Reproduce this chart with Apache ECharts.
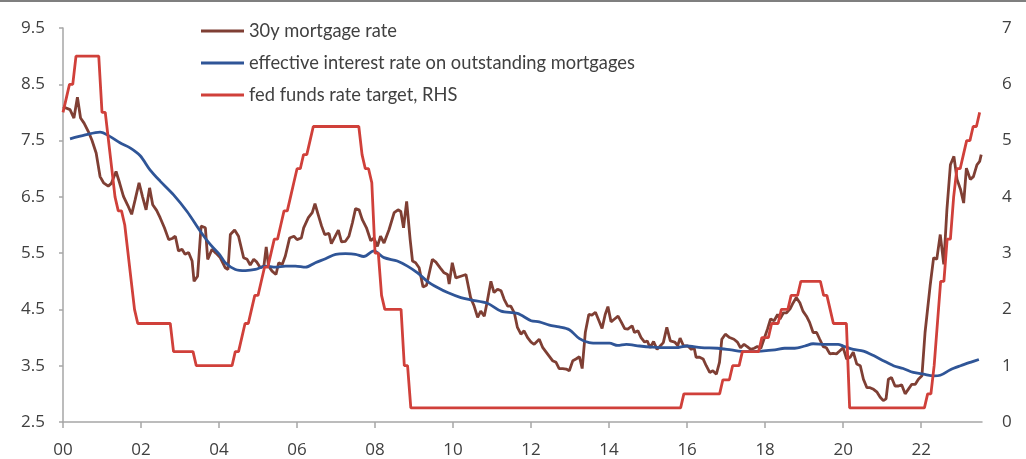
<!DOCTYPE html>
<html>
<head>
<meta charset="utf-8">
<script src="https://cdn.jsdelivr.net/npm/echarts@6/dist/echarts.min.js"></script>
<style>
  html, body { margin: 0; padding: 0; background: #fff; }
  #topRule { position: absolute; left: 0; top: 0; width: 1026px; height: 2px; background: #7f7f7f; z-index: 2; }
  #mortgageChart { width: 1026px; height: 459px; }
</style>
</head>
<body>
<div id="topRule"></div>
<div id="mortgageChart"></div>
<script>
// x axis: years since 2000
const yearTicks = [0, 2, 4, 6, 8, 10, 12, 14, 16, 18, 20, 22];
const rateTicks = [2.5, 3.5, 4.5, 5.5, 6.5, 7.5, 8.5, 9.5];

// 30y mortgage rate
const mortgageYears = [
  0.00, 0.18, 0.28, 0.37, 0.45, 0.54, 0.65, 0.74, 0.85, 0.95, 1.04, 1.16, 1.24, 1.36, 1.45, 1.55, 1.66, 1.76, 1.85, 1.95,
  2.04, 2.13, 2.22, 2.30, 2.40, 2.49, 2.60, 2.71, 2.80, 2.88, 2.96, 3.05, 3.13, 3.22, 3.31, 3.36, 3.45, 3.54, 3.65, 3.71,
  3.82, 3.92, 4.03, 4.16, 4.23, 4.29, 4.40, 4.50, 4.63, 4.72, 4.80, 4.89, 4.97, 5.06, 5.15, 5.21, 5.27, 5.36, 5.46, 5.53,
  5.62, 5.70, 5.81, 5.92, 6.00, 6.11, 6.17, 6.29, 6.39, 6.46, 6.54, 6.63, 6.71, 6.82, 6.88, 6.97, 7.06, 7.14, 7.24, 7.33,
  7.42, 7.50, 7.59, 7.67, 7.78, 7.89, 7.97, 8.06, 8.14, 8.23, 8.36, 8.49, 8.59, 8.66, 8.73, 8.81, 8.90, 8.96, 9.04, 9.13,
  9.23, 9.32, 9.41, 9.47, 9.56, 9.67, 9.77, 9.86, 9.90, 9.98, 10.07, 10.20, 10.33, 10.45, 10.54, 10.63, 10.71, 10.80, 10.87, 10.97,
  11.05, 11.14, 11.23, 11.31, 11.40, 11.48, 11.57, 11.65, 11.74, 11.82, 11.91, 12.00, 12.08, 12.21, 12.30, 12.42, 12.55, 12.64, 12.72, 12.81,
  12.90, 12.98, 13.07, 13.15, 13.24, 13.31, 13.39, 13.48, 13.56, 13.65, 13.74, 13.82, 13.90, 13.97, 14.05, 14.14, 14.23, 14.31, 14.40, 14.48,
  14.59, 14.65, 14.74, 14.82, 14.91, 14.98, 15.05, 15.14, 15.23, 15.31, 15.39, 15.48, 15.57, 15.68, 15.76, 15.82, 15.91, 16.02, 16.11, 16.18,
  16.23, 16.32, 16.41, 16.49, 16.58, 16.66, 16.75, 16.83, 16.89, 16.98, 17.09, 17.20, 17.29, 17.37, 17.46, 17.54, 17.63, 17.72, 17.80, 17.89,
  17.97, 18.06, 18.14, 18.23, 18.32, 18.38, 18.47, 18.55, 18.64, 18.72, 18.80, 18.89, 18.97, 19.06, 19.14, 19.23, 19.32, 19.40, 19.49, 19.57,
  19.66, 19.74, 19.83, 19.91, 20.00, 20.09, 20.18, 20.26, 20.35, 20.44, 20.52, 20.61, 20.69, 20.78, 20.87, 20.95, 21.03, 21.10, 21.16, 21.24,
  21.33, 21.42, 21.50, 21.59, 21.67, 21.76, 21.85, 21.93, 22.02, 22.10, 22.23, 22.32, 22.40, 22.49, 22.58, 22.66, 22.75, 22.84, 22.92, 23.01,
  23.09, 23.16, 23.26, 23.34, 23.43, 23.50, 23.54
];
const mortgageRates = [
  8.10, 8.05, 7.90, 8.27, 7.90, 7.81, 7.66, 7.51, 7.28, 6.86, 6.75, 6.69, 6.74, 6.95, 6.75, 6.51, 6.35, 6.19, 6.45, 6.75,
  6.50, 6.27, 6.66, 6.36, 6.26, 6.13, 5.95, 5.74, 5.76, 5.80, 5.54, 5.57, 5.48, 5.51, 5.36, 5.00, 5.09, 5.98, 5.95, 5.39,
  5.57, 5.50, 5.42, 5.24, 5.21, 5.83, 5.91, 5.80, 5.42, 5.39, 5.29, 5.39, 5.34, 5.24, 5.27, 5.61, 5.27, 5.18, 5.12, 5.33,
  5.30, 5.45, 5.77, 5.80, 5.74, 5.77, 5.95, 6.13, 6.22, 6.38, 6.19, 5.98, 5.83, 5.85, 5.67, 5.79, 5.91, 5.70, 5.71, 5.80,
  6.04, 6.29, 6.27, 6.10, 5.95, 5.72, 5.77, 5.62, 5.80, 5.68, 5.92, 6.22, 6.27, 6.24, 5.95, 6.42, 5.74, 5.36, 5.33, 5.24,
  4.90, 4.93, 5.21, 5.39, 5.34, 5.24, 5.15, 5.12, 4.95, 5.33, 5.06, 5.09, 5.12, 4.71, 4.56, 4.36, 4.47, 4.38, 4.62, 5.00,
  4.80, 4.86, 4.83, 4.68, 4.56, 4.56, 4.44, 4.18, 4.06, 4.12, 4.00, 3.92, 3.88, 3.97, 3.82, 3.71, 3.59, 3.56, 3.45, 3.45,
  3.44, 3.41, 3.59, 3.62, 3.66, 3.45, 4.09, 4.41, 4.40, 4.45, 4.30, 4.16, 4.41, 4.55, 4.28, 4.33, 4.38, 4.28, 4.16, 4.15,
  4.21, 4.09, 4.12, 4.00, 3.92, 3.94, 3.82, 3.93, 3.79, 3.85, 3.91, 4.18, 3.94, 3.92, 3.86, 3.99, 3.85, 3.85, 3.79, 3.82,
  3.65, 3.65, 3.62, 3.50, 3.38, 3.41, 3.35, 3.56, 3.97, 4.06, 4.00, 3.97, 3.92, 3.82, 3.88, 3.84, 3.79, 3.81, 3.84, 3.81,
  3.97, 4.15, 4.33, 4.30, 4.41, 4.33, 4.44, 4.44, 4.51, 4.62, 4.71, 4.62, 4.47, 4.38, 4.27, 4.09, 4.09, 3.97, 3.84, 3.82,
  3.71, 3.72, 3.71, 3.76, 3.82, 3.62, 3.65, 3.74, 3.53, 3.50, 3.26, 3.11, 3.11, 3.08, 3.03, 2.94, 2.88, 2.91, 3.26, 3.29,
  3.14, 3.14, 3.16, 3.00, 3.08, 3.17, 3.17, 3.26, 3.32, 4.09, 4.92, 5.42, 5.39, 5.83, 5.30, 6.27, 7.07, 7.22, 6.81, 6.63,
  6.39, 7.01, 6.81, 6.86, 7.07, 7.13, 7.25
];

// effective interest rate on outstanding mortgages
const effectiveYears = [
  0.18, 0.57, 0.95, 1.21, 1.46, 1.72, 1.98, 2.23, 2.49, 2.83, 3.18, 3.52, 3.78, 4.02, 4.16, 4.42, 4.68, 4.93, 5.19, 5.45,
  5.70, 5.96, 6.22, 6.47, 6.73, 6.99, 7.24, 7.50, 7.71, 7.97, 8.23, 8.57, 8.83, 9.09, 9.34, 9.60, 9.86, 10.20, 10.45, 10.88,
  11.23, 11.65, 12.00, 12.21, 12.47, 12.72, 12.98, 13.24, 13.49, 13.75, 14.01, 14.22, 14.44, 14.78, 15.12, 15.46, 15.72, 15.98, 16.36, 16.79,
  17.13, 17.48, 17.90, 18.25, 18.50, 18.76, 19.02, 19.23, 19.53, 19.87, 20.00, 20.26, 20.52, 20.78, 21.03, 21.29, 21.54, 21.80, 22.06, 22.32,
  22.49, 22.75, 23.01, 23.26, 23.48
];
const effectiveRates = [
  7.53, 7.60, 7.65, 7.57, 7.46, 7.37, 7.23, 6.98, 6.78, 6.54, 6.24, 5.89, 5.65, 5.47, 5.33, 5.21, 5.19, 5.21, 5.27, 5.25,
  5.27, 5.27, 5.25, 5.33, 5.40, 5.48, 5.49, 5.48, 5.44, 5.54, 5.42, 5.36, 5.27, 5.15, 5.00, 4.89, 4.80, 4.71, 4.67, 4.61,
  4.47, 4.43, 4.30, 4.28, 4.22, 4.19, 4.14, 3.98, 3.91, 3.90, 3.90, 3.86, 3.88, 3.85, 3.83, 3.82, 3.82, 3.85, 3.82, 3.81,
  3.78, 3.75, 3.76, 3.78, 3.81, 3.81, 3.85, 3.89, 3.88, 3.88, 3.85, 3.79, 3.76, 3.68, 3.59, 3.50, 3.45, 3.38, 3.35, 3.32,
  3.33, 3.43, 3.50, 3.56, 3.61
];

// fed funds rate target (RHS), monthly from Jan 2000
const fedFundsTarget = [
  5.5, 5.75, 6.0, 6.0, 6.5, 6.5, 6.5, 6.5, 6.5, 6.5, 6.5, 6.5,
  5.5, 5.5, 5.0, 4.5, 4.0, 3.75, 3.75, 3.5, 3.0, 2.5, 2.0, 1.75,
  1.75, 1.75, 1.75, 1.75, 1.75, 1.75, 1.75, 1.75, 1.75, 1.75, 1.25, 1.25,
  1.25, 1.25, 1.25, 1.25, 1.25, 1.0, 1.0, 1.0, 1.0, 1.0, 1.0, 1.0,
  1.0, 1.0, 1.0, 1.0, 1.0, 1.25, 1.25, 1.5, 1.75, 1.75, 2.0, 2.25,
  2.25, 2.5, 2.75, 2.75, 3.0, 3.25, 3.25, 3.5, 3.75, 3.75, 4.0, 4.25,
  4.5, 4.5, 4.75, 4.75, 5.0, 5.25, 5.25, 5.25, 5.25, 5.25, 5.25, 5.25,
  5.25, 5.25, 5.25, 5.25, 5.25, 5.25, 5.25, 5.25, 4.75, 4.5, 4.5, 4.25,
  3.0, 3.0, 2.25, 2.0, 2.0, 2.0, 2.0, 2.0, 2.0, 1.0, 1.0, 0.25,
  0.25, 0.25, 0.25, 0.25, 0.25, 0.25, 0.25, 0.25, 0.25, 0.25, 0.25, 0.25,
  0.25, 0.25, 0.25, 0.25, 0.25, 0.25, 0.25, 0.25, 0.25, 0.25, 0.25, 0.25,
  0.25, 0.25, 0.25, 0.25, 0.25, 0.25, 0.25, 0.25, 0.25, 0.25, 0.25, 0.25,
  0.25, 0.25, 0.25, 0.25, 0.25, 0.25, 0.25, 0.25, 0.25, 0.25, 0.25, 0.25,
  0.25, 0.25, 0.25, 0.25, 0.25, 0.25, 0.25, 0.25, 0.25, 0.25, 0.25, 0.25,
  0.25, 0.25, 0.25, 0.25, 0.25, 0.25, 0.25, 0.25, 0.25, 0.25, 0.25, 0.25,
  0.25, 0.25, 0.25, 0.25, 0.25, 0.25, 0.25, 0.25, 0.25, 0.25, 0.25, 0.5,
  0.5, 0.5, 0.5, 0.5, 0.5, 0.5, 0.5, 0.5, 0.5, 0.5, 0.5, 0.75,
  0.75, 0.75, 1.0, 1.0, 1.0, 1.25, 1.25, 1.25, 1.25, 1.25, 1.25, 1.5,
  1.5, 1.5, 1.75, 1.75, 1.75, 2.0, 2.0, 2.0, 2.25, 2.25, 2.25, 2.5,
  2.5, 2.5, 2.5, 2.5, 2.5, 2.5, 2.25, 2.25, 2.0, 1.75, 1.75, 1.75,
  1.75, 1.75, 0.25, 0.25, 0.25, 0.25, 0.25, 0.25, 0.25, 0.25, 0.25, 0.25,
  0.25, 0.25, 0.25, 0.25, 0.25, 0.25, 0.25, 0.25, 0.25, 0.25, 0.25, 0.25,
  0.25, 0.25, 0.5, 0.5, 1.0, 1.75, 2.5, 2.5, 3.25, 3.25, 4.0, 4.5,
  4.5, 4.75, 5.0, 5.0, 5.25, 5.25, 5.5
];

const seriesNames = [
  '30y mortgage rate',
  'effective interest rate on outstanding mortgages',
  'fed funds rate target, RHS'
];

const textColor = '#404040';
const axisGray = '#a6a6a6';

const chart = echarts.init(document.getElementById('mortgageChart'));

const pairs = (xs, ys) => xs.map((x, i) => [x, ys[i]]);

const option = {
  animation: false,
  backgroundColor: '#fff',
  grid: {
    left: 63,
    right: 44,
    top: 28,
    bottom: 36,
    containLabel: false
  },
  legend: {
    orient: 'vertical',
    left: 196,
    top: 17,
    icon: 'rect',
    itemWidth: 43,
    itemHeight: 3,
    itemGap: 14,
    data: seriesNames,
    textStyle: {
      fontFamily: 'Lato',
      fontSize: 18.3,
      color: textColor
    }
  },
  xAxis: {
    type: 'value',
    min: 0,
    max: 23.56,
    splitLine: { show: false },
    axisLine: { show: true, lineStyle: { color: axisGray, width: 1.5 } },
    axisTick: {
      show: true,
      length: 6,
      customValues: yearTicks,
      lineStyle: { color: axisGray, width: 1.5 }
    },
    axisLabel: {
      customValues: yearTicks,
      margin: 20,
      fontFamily: 'Open Sans',
      fontSize: 17,
      color: textColor,
      formatter: (v) => String(Math.round(v)).padStart(2, '0')
    }
  },
  yAxis: [
    {
      type: 'value',
      min: 2.5,
      max: 9.5,
      splitLine: { show: false },
      axisLine: { show: true, lineStyle: { color: axisGray, width: 1.5 } },
      axisTick: {
        show: true,
        length: 4,
        customValues: rateTicks,
        lineStyle: { color: axisGray, width: 1.5 }
      },
      axisLabel: {
        customValues: rateTicks,
        margin: 18,
        fontFamily: 'Open Sans',
        fontSize: 17,
        color: textColor,
        formatter: (v) => v.toFixed(1)
      }
    },
    {
      type: 'value',
      min: 0,
      max: 7,
      interval: 1,
      splitLine: { show: false },
      axisLine: { show: false },
      axisTick: { show: false },
      axisLabel: {
        margin: 20,
        fontFamily: 'Open Sans',
        fontSize: 17,
        color: textColor
      }
    }
  ],
  series: [
    {
      name: seriesNames[0],
      type: 'line',
      yAxisIndex: 0,
      showSymbol: false,
      lineStyle: { width: 2.8, color: '#7f3f34' },
      itemStyle: { color: '#7f3f34' },
      data: pairs(mortgageYears, mortgageRates)
    },
    {
      name: seriesNames[1],
      type: 'line',
      yAxisIndex: 0,
      showSymbol: false,
      smooth: 0.3,
      lineStyle: { width: 2.8, color: '#2f5597' },
      itemStyle: { color: '#2f5597' },
      data: pairs(effectiveYears, effectiveRates)
    },
    {
      name: seriesNames[2],
      type: 'line',
      yAxisIndex: 1,
      showSymbol: false,
      lineStyle: { width: 2.8, color: '#d0403a' },
      itemStyle: { color: '#d0403a' },
      data: fedFundsTarget.map((v, i) => [i / 12, v])
    }
  ]
};

chart.setOption(option);
</script>
</body>
</html>
